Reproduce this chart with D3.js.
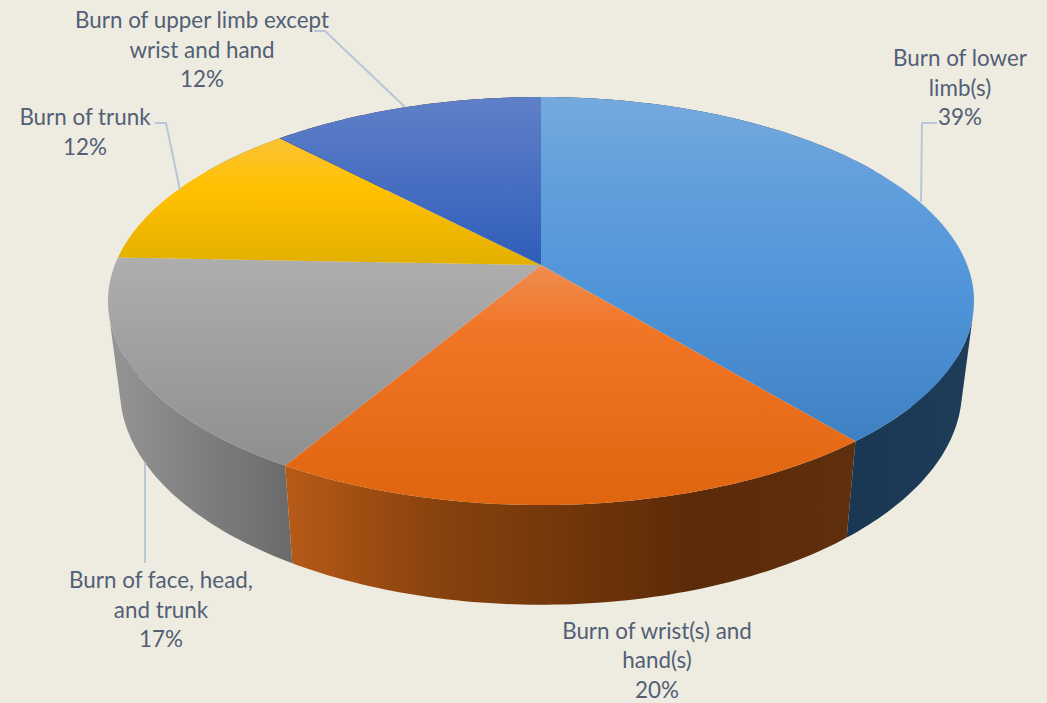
<!DOCTYPE html>
<html>
<head>
<meta charset="utf-8">
<script src="https://cdnjs.cloudflare.com/ajax/libs/d3/7.8.5/d3.min.js"></script>
<style>
  html, body { margin: 0; padding: 0; background: #eeebe0; overflow: hidden; }
  svg { display: block; }
</style>
</head>
<body>
<div id="chart"></div>
<script>
// values (labels show them rounded)
var categories = [
  ['Burn of lower', 'limb(s)'],
  ['Burn of wrist(s) and', 'hand(s)'],
  ['Burn of face, head,', 'and trunk'],
  ['Burn of trunk'],
  ['Burn of upper limb except', 'wrist and hand']
];
var values = [39, 19.5, 17.1, 12.25, 12.15];

var width = 1047;
var height = 703;
var tilt = -0.1765;   // perspective of the disc

// disc faces: projected centre, forward reach and half width
var topFace = { cx: 541, p: 265, q: 150.9, a: 426.2 };
var baseFace = { cx: 541, p: 352, q: 146, a: 414.4 };

var faceGrads = [
  [[97, '#76aade'], [180, '#629fdc'], [300, '#4f94d8'], [442, '#3f80c2']],
  [[265, '#ef8d50'], [330, '#f17526'], [505, '#e0650f']],
  [[258, '#aeaeae'], [465, '#8f8f8f']],
  [[138, '#fbc335'], [190, '#ffc000'], [264, '#e3b000']],
  [[97, '#6080c8'], [265, '#2f5dba']]
];
var wallGrads = [
  [[848, '#193653'], [975, '#1f3d58']],
  [[287, '#b65a18'], [440, '#87420d'], [700, '#5b2a08'], [850, '#602f0d']],
  [[112, '#949494'], [292, '#6a6a6a']],
  [[120, '#666666'], [280, '#666666']],
  [[280, '#222222'], [541, '#222222']]
];

// label anchor and leader line for every slice
var labelPos = [
  [960, 66], [657, 638.5], [161, 588], [85, 125], [202, 28]
];
var leaders = [
  [[937, 123], [922, 123], [921, 202]],
  null,
  [[145, 462], [145, 563]],
  [[155, 123], [166, 123], [180, 190]],
  [[314, 31], [325, 31], [405, 107]]
];

var pct = d3.format('.0f');
var pie = d3.pie().sort(null).value(function(d) { return d; });
var arcs = pie(values);

function project(face, angle) {
  var u = Math.sin(angle);
  var v = -Math.cos(angle);
  var den = 1 + tilt * v;
  return [face.cx + face.a * u / den, (face.p + face.q * v) / den];
}

function steps(a) {
  var n = Math.ceil((a.endAngle - a.startAngle) * 60);
  return d3.range(n + 1).map(function(i) {
    return a.startAngle + (a.endAngle - a.startAngle) * i / n;
  });
}

var svg = d3.select('#chart').append('svg')
  .attr('width', width)
  .attr('height', height);

svg.append('rect')
  .attr('width', width)
  .attr('height', height)
  .attr('fill', '#eeebe0');

var defs = svg.append('defs');

function addGrad(id, stops, horizontal) {
  var lo = stops[0][0];
  var hi = stops[stops.length - 1][0];
  var g = defs.append('linearGradient')
    .attr('id', id)
    .attr('gradientUnits', 'userSpaceOnUse')
    .attr('x1', horizontal ? lo : 0)
    .attr('x2', horizontal ? hi : 0)
    .attr('y1', horizontal ? 0 : lo)
    .attr('y2', horizontal ? 0 : hi);
  stops.forEach(function(s) {
    g.append('stop')
      .attr('offset', (s[0] - lo) / (hi - lo))
      .attr('stop-color', s[1]);
  });
}

faceGrads.forEach(function(s, i) { addGrad('face' + i, s, false); });
wallGrads.forEach(function(s, i) { addGrad('wall' + i, s, true); });

var line = d3.line();

// side walls, back slices first; each is a run of small quads in one path
function wallPath(a) {
  var t = steps(a);
  var d = '';
  for (var i = 0; i < t.length - 1; i++) {
    d += line([
      project(topFace, t[i]),
      project(topFace, t[i + 1]),
      project(baseFace, t[i + 1]),
      project(baseFace, t[i])
    ]) + 'Z';
  }
  // the quads leave a notch at the far left and right, close it with a hull
  [t.filter(function(x) { return Math.sin(x) > 0.85; }),
   t.filter(function(x) { return Math.sin(x) < -0.85; })].forEach(function(side) {
    if (side.length < 2) return;
    var pts = [];
    side.forEach(function(x) {
      pts.push(project(topFace, x), project(baseFace, x));
    });
    d += line(d3.polygonHull(pts)) + 'Z';
  });
  return d;
}

svg.append('g')
  .selectAll('path')
  .data(arcs.map(function(a, i) { return { arc: a, i: i }; }).reverse())
  .enter().append('path')
    .attr('d', function(d) { return wallPath(d.arc); })
    .attr('fill', function(d) { return 'url(#wall' + d.i + ')'; });

// top faces
function facePath(a) {
  var pts = steps(a).map(function(t) { return project(topFace, t); });
  pts.push([topFace.cx, topFace.p]);
  return line(pts) + 'Z';
}

svg.append('g')
  .selectAll('path')
  .data(arcs)
  .enter().append('path')
    .attr('d', facePath)
    .attr('fill', function(d, i) { return 'url(#face' + i + ')'; });

// leader lines
svg.append('g')
  .selectAll('path')
  .data(leaders.filter(function(d) { return d; }))
  .enter().append('path')
    .attr('d', line)
    .attr('fill', 'none')
    .attr('stroke', '#b9c6d8')
    .attr('stroke-width', 2);

// labels
var labels = svg.append('g')
  .attr('font-family', 'Lato, "Open Sans", sans-serif')
  .attr('font-size', 22.4)
  .attr('fill', '#525f76')
  .attr('text-anchor', 'middle')
  .selectAll('text')
  .data(categories)
  .enter().append('text')
    .attr('transform', function(d, i) {
      return 'translate(' + labelPos[i][0] + ',' + labelPos[i][1] + ')';
    });

labels.each(function(d, i) {
  var rows = d.concat([pct(values[i]) + '%']);
  d3.select(this).selectAll('tspan')
    .data(rows)
    .enter().append('tspan')
      .attr('x', 0)
      .attr('y', function(r, j) { return j * 29.5; })
      .text(function(r) { return r; });
});
</script>
</body>
</html>
